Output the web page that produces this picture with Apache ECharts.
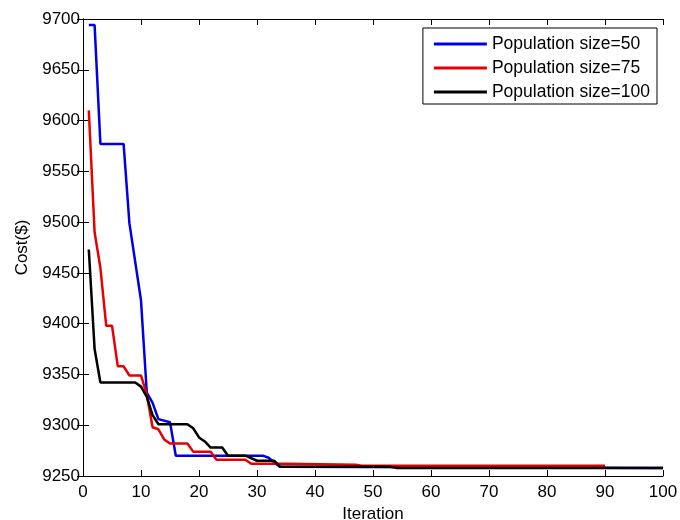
<!DOCTYPE html>
<html>
<head>
<meta charset="utf-8">
<script src="https://cdn.jsdelivr.net/npm/echarts@6/dist/echarts.min.js"></script>
<style>
  html, body { margin: 0; padding: 0; background: #fff; }
  #chart { width: 680px; height: 520px; }
</style>
</head>
<body>
<div id="chart"></div>
<script>
// breakpoints (iteration, cost)
var iter50 = [1, 2, 3, 7, 8, 10, 11, 12, 13, 15, 16, 31, 32, 33, 34, 100];
var cost50 = [9694, 9694, 9577, 9577, 9499, 9423, 9332, 9322, 9306, 9303, 9270, 9270, 9268, 9263, 9259, 9258];

var iter75 = [1, 2, 3, 4, 5, 6, 7, 8, 10, 11, 12, 13, 14, 15, 18, 19, 22, 23, 28, 29, 35, 47, 48, 90];
var cost75 = [9610, 9490, 9455, 9398, 9398, 9358, 9358, 9349, 9349, 9330, 9298, 9296, 9286, 9282, 9282, 9274, 9274, 9266, 9266, 9262, 9262, 9261, 9260, 9260];

var iter100 = [1, 2, 3, 9, 10, 11, 12, 13, 18, 19, 20, 21, 22, 24, 25, 28, 30, 33, 34, 53, 54, 100];
var cost100 = [9473, 9375, 9342, 9342, 9338, 9328, 9310, 9301, 9301, 9297, 9288, 9284, 9278, 9278, 9270, 9270, 9265, 9265, 9259, 9259, 9258, 9258];

var seriesNames = ['Population size=50', 'Population size=75', 'Population size=100'];
var seriesColors = ['#0000e6', '#e60000', '#000000'];

function pairs(xs, ys) {
  return xs.map(function (x, i) { return [x, ys[i]]; });
}

var chart = echarts.init(document.getElementById('chart'));

var fontBase = { color: '#000', fontFamily: 'Liberation Sans, Arial, sans-serif', fontSize: 17 };
var frameLine = { show: true, lineStyle: { color: '#000', width: 1 } };
var innerTick = { show: true, inside: true, length: 6, lineStyle: { color: '#000' } };

var option = {
  animation: false,
  grid: { left: 83, right: 17, top: 19, bottom: 44, outerBoundsMode: 'none', containLabel: false },
  legend: {
    orient: 'vertical',
    right: 23,
    top: 28,
    itemWidth: 53,
    itemHeight: 3,
    itemGap: 4,
    padding: [6, 7, 2, 11],
    borderColor: '#000',
    borderWidth: 1,
    backgroundColor: '#fff',
    icon: 'rect',
    textStyle: { color: '#000', fontFamily: 'Liberation Sans, Arial, sans-serif', fontSize: 17.5, lineHeight: 20 },
    data: seriesNames
  },
  xAxis: [{
    type: 'value',
    min: 0, max: 100, interval: 10,
    name: 'Iteration',
    nameLocation: 'middle',
    nameGap: 28,
    nameTextStyle: fontBase,
    axisLine: frameLine,
    axisTick: innerTick,
    axisLabel: Object.assign({ margin: 8 }, fontBase),
    splitLine: { show: false }
  }, {
    type: 'value',
    position: 'top',
    min: 0, max: 100, interval: 10,
    axisLine: frameLine,
    axisTick: innerTick,
    axisLabel: { show: false },
    splitLine: { show: false }
  }],
  yAxis: [{
    type: 'value',
    min: 9250, max: 9700, interval: 50,
    name: 'Cost($)',
    nameLocation: 'middle',
    nameGap: 51,
    nameTextStyle: fontBase,
    axisLine: frameLine,
    axisTick: innerTick,
    axisLabel: Object.assign({ margin: 3, formatter: function (v) { return String(v); } }, fontBase),
    splitLine: { show: false }
  }, {
    type: 'value',
    position: 'right',
    min: 9250, max: 9700, interval: 50,
    axisLine: frameLine,
    axisTick: innerTick,
    axisLabel: { show: false },
    splitLine: { show: false }
  }],
  series: [
    { name: seriesNames[0], type: 'line', data: pairs(iter50, cost50) },
    { name: seriesNames[1], type: 'line', data: pairs(iter75, cost75) },
    { name: seriesNames[2], type: 'line', data: pairs(iter100, cost100) }
  ].map(function (s, i) {
    s.showSymbol = false;
    s.symbol = 'none';
    s.color = seriesColors[i];
    s.lineStyle = { width: 2.5, color: seriesColors[i] };
    return s;
  })
};

chart.setOption(option);

window.onresize = function () {
  chart.resize();
};
</script>
</body>
</html>
